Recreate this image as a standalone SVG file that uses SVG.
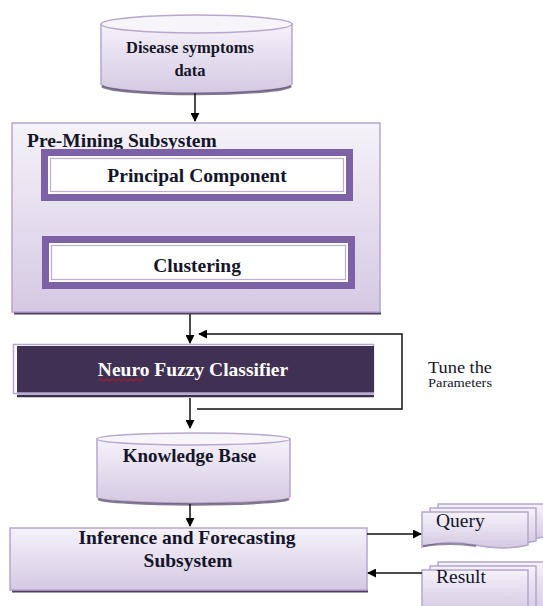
<svg xmlns="http://www.w3.org/2000/svg" width="543" height="606" viewBox="0 0 543 606">
<defs>
<linearGradient id="lav" x1="0" y1="0" x2="0" y2="1">
<stop offset="0" stop-color="#f5f2f9"/>
<stop offset="1" stop-color="#d5c9e3"/>
</linearGradient>
<marker id="ah" viewBox="0 0 10 10" refX="9" refY="5" markerWidth="9" markerHeight="9" markerUnits="userSpaceOnUse" orient="auto">
<path d="M0,0 L10,5 L0,10 z" fill="#000"/>
</marker>
<style>
.lbl{font-family:"Liberation Serif","Times New Roman",serif;font-weight:bold;fill:#15152a;text-anchor:middle}
.reg{font-family:"Liberation Serif","Times New Roman",serif;fill:#15152a}
.box{fill:url(#lav);stroke:#b7a7cc;stroke-width:1.5}
.shadow{fill:none;stroke:#4e3f63;stroke-width:2.5}
.edge{fill:none;stroke:#111;stroke-width:1.5}
.purple{fill:#7c61a6}
.inner{fill:#fff;stroke:#bcaed2;stroke-width:1.2}
</style>
</defs>

<g id="disease-data">
<path class="box" d="M101,24 L101,84 A95.5,9 0 0 0 292,84 L292,24 z"/>
<path class="shadow" d="M102,86 A95,9 0 0 0 291,86" stroke-opacity="0.7"/>
<ellipse cx="196.5" cy="24" rx="95.5" ry="9" fill="#f7f5fa" stroke="#b7a7cc" stroke-width="1.5"/>
<text class="lbl" x="190" y="53" font-size="16.5">Disease symptoms</text>
<text class="lbl" x="190" y="76" font-size="16.5">data</text>
</g>

<g id="pre-mining">
<line x1="14" y1="313" x2="381" y2="313" stroke="#4e3f63" stroke-width="3"/>
<rect class="box" x="12" y="123" width="368" height="189"/>
<text class="reg" x="27" y="147" font-size="19.5" font-weight="bold">Pre-Mining Subsystem</text>
</g>

<g id="principal-component">
<rect class="purple" x="41" y="149" width="312" height="52"/>
<rect x="48" y="156" width="298" height="38" fill="#fff"/>
<rect class="inner" x="50.5" y="158.5" width="293" height="33"/>
<text class="lbl" x="197" y="182" font-size="19.5">Principal Component</text>
</g>

<g id="clustering">
<rect class="purple" x="42" y="236" width="313" height="53"/>
<rect x="49" y="243" width="299" height="39" fill="#fff"/>
<rect class="inner" x="51.5" y="245.5" width="294" height="34"/>
<text class="lbl" x="197" y="272" font-size="19.5">Clustering</text>
</g>

<g id="neuro-fuzzy">
<rect x="13.5" y="344.5" width="360" height="49" fill="#fff" stroke="#b7a7cc" stroke-width="1.5"/>
<rect x="17" y="346" width="357" height="47" fill="#3f3054"/>
<line x1="17" y1="393" x2="374" y2="393" stroke="#b7a7cc" stroke-width="1.5"/>
<line x1="17" y1="396" x2="374" y2="396" stroke="#3a2d4e" stroke-width="2.5"/>
<text x="193" y="376" font-size="19.5" font-family="Liberation Serif, Times New Roman, serif" font-weight="bold" fill="#fff" text-anchor="middle">Neuro Fuzzy Classifier</text>
<path d="M99,380 q1.5,-2 3,0 t3,0 t3,0 t3,0 t3,0 t3,0 t3,0 t3,0 t3,0 t3,0 t3,0 t3,0 t3,0 t3,0 t3,0" fill="none" stroke="#d01818" stroke-width="1"/>
</g>

<g id="tune-label">
<text class="reg" x="428" y="373" font-size="16" textLength="64" lengthAdjust="spacingAndGlyphs">Tune the</text>
<text class="reg" x="428" y="387" font-size="12" textLength="64" lengthAdjust="spacingAndGlyphs">Parameters</text>
</g>

<g id="knowledge-base">
<path class="box" d="M97,439 L97,497 A96.5,6 0 0 0 290,497 L290,439 z"/>
<path class="shadow" d="M98,499 A96,6 0 0 0 289,499" stroke-opacity="0.7"/>
<ellipse cx="193.5" cy="439" rx="96.5" ry="6" fill="#f7f5fa" stroke="#b7a7cc" stroke-width="1.5"/>
<text class="lbl" x="189.5" y="462" font-size="19">Knowledge Base</text>
</g>

<g id="inference">
<line x1="12" y1="591" x2="368" y2="591" stroke="#4e3f63" stroke-width="3"/>
<rect class="box" x="10" y="528" width="357" height="62"/>
<text class="lbl" x="187" y="544" font-size="19.5">Inference and Forecasting</text>
<text class="lbl" x="188" y="567" font-size="19.5">Subsystem</text>
</g>

<g id="query">
<path class="box" d="M438,504 h106 v33 q-25,6 -53,0 t-53,2 z"/>
<path class="box" d="M430,508 h106 v33 q-25,6 -53,0 t-53,2 z"/>
<path class="box" d="M422,512 h106 v33 q-25,6 -53,0 t-53,2 z"/>
<path d="M423,546 q27,-4 53,0" fill="none" stroke="#4e3f63" stroke-width="2" stroke-opacity="0.6"/>
<text class="reg" x="436" y="527" font-size="19.5">Query</text>
</g>

<g id="result">
<path class="box" d="M438,562 h106 v50 h-106 z"/>
<path class="box" d="M430,566 h106 v46 h-106 z"/>
<path class="box" d="M422,570 h106 v42 h-106 z"/>
<text class="reg" x="436" y="583" font-size="19.5">Result</text>
</g>

<g id="connectors">
<line class="edge" x1="195" y1="93" x2="195" y2="121" marker-end="url(#ah)"/>
<line class="edge" x1="190" y1="314" x2="190" y2="343" marker-end="url(#ah)"/>
<polyline class="edge" points="197,409 402,409 402,334 199,334" marker-end="url(#ah)"/>
<line class="edge" x1="190" y1="398" x2="190" y2="428" marker-end="url(#ah)"/>
<line class="edge" x1="190" y1="504" x2="190" y2="526" marker-end="url(#ah)"/>
<line class="edge" x1="367" y1="534" x2="421" y2="534" marker-end="url(#ah)"/>
<line class="edge" x1="422" y1="573" x2="368" y2="573" marker-end="url(#ah)"/>
</g>
</svg>
